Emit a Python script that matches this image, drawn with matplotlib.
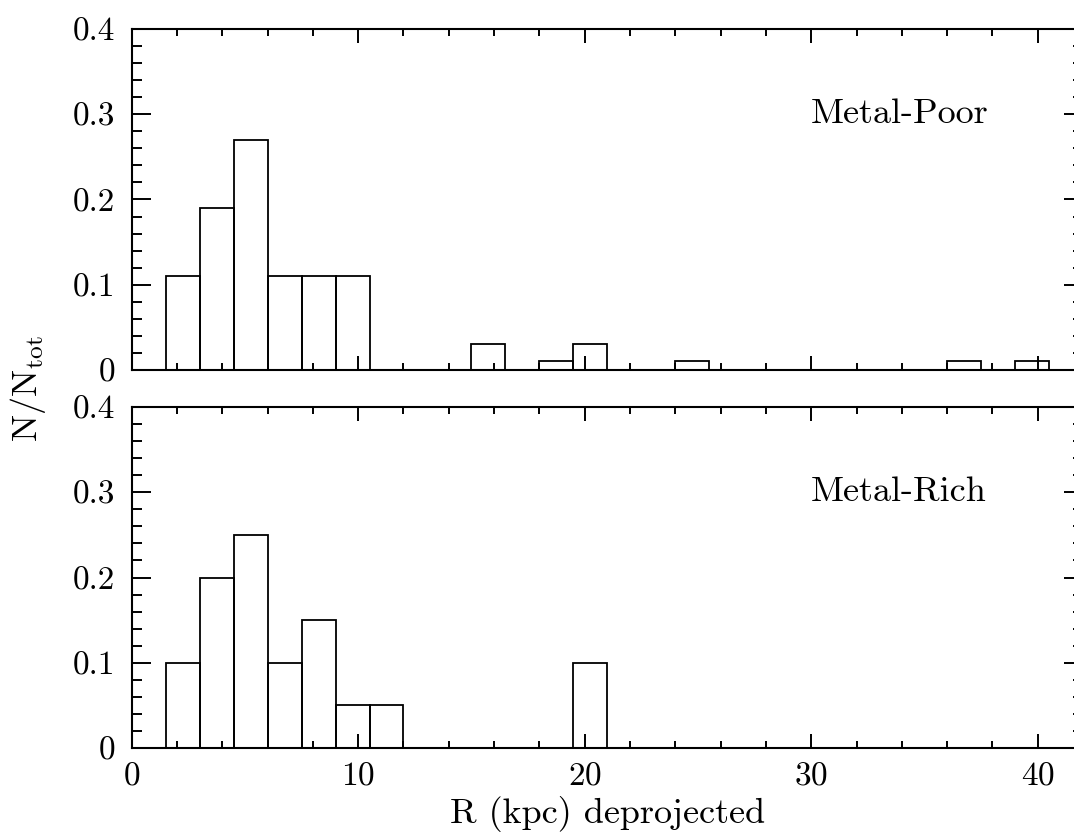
import matplotlib
matplotlib.use("Agg")
import matplotlib.pyplot as plt
from matplotlib.ticker import MultipleLocator, FuncFormatter

# Histogram data (bin left edges, fractions), bin width 1.5 kpc
bin_width = 1.5
poor_left = [1.5, 3.0, 4.5, 6.0, 7.5, 9.0, 15.0, 18.0, 19.5, 24.0, 36.0, 39.0]
poor_frac = [0.11, 0.19, 0.27, 0.11, 0.11, 0.11, 0.03, 0.01, 0.03, 0.01, 0.01, 0.01]
rich_left = [1.5, 3.0, 4.5, 6.0, 7.5, 9.0, 10.5, 19.5]
rich_frac = [0.10, 0.20, 0.25, 0.10, 0.15, 0.05, 0.05, 0.10]

panel_labels = ["Metal-Poor", "Metal-Rich"]

plt.rcParams['font.family'] = 'cmr10'
plt.rcParams['mathtext.fontset'] = 'cm'
plt.rcParams['axes.formatter.use_mathtext'] = True

fig = plt.figure(figsize=(10.74, 8.38), dpi=100)
ax_top = fig.add_axes([0.1226, 0.5585, 0.8858, 0.4069])
ax_bot = fig.add_axes([0.1226, 0.1074, 0.8858, 0.4069])


def fmt(v, pos):
    if abs(v) < 1e-9:
        return "0"
    return f"{v:.1f}"


for ax, lefts, fracs, label in [(ax_top, poor_left, poor_frac, panel_labels[0]),
                                (ax_bot, rich_left, rich_frac, panel_labels[1])]:
    ax.bar(lefts, fracs, width=bin_width, align='edge', fill=False,
           edgecolor='black', linewidth=1.3)
    ax.set_xlim(0, 42)
    ax.set_ylim(0, 0.4)
    ax.xaxis.set_major_locator(MultipleLocator(10))
    ax.xaxis.set_minor_locator(MultipleLocator(2))
    ax.yaxis.set_major_locator(MultipleLocator(0.1))
    ax.yaxis.set_minor_locator(MultipleLocator(0.02))
    ax.yaxis.set_major_formatter(FuncFormatter(fmt))
    ax.tick_params(axis='both', which='both', direction='in',
                   top=True, right=True, width=1.4, labelsize=24)
    ax.tick_params(axis='x', which='major', length=10, pad=10)
    ax.tick_params(axis='x', which='minor', length=5)
    ax.tick_params(axis='y', which='major', length=14, pad=12)
    ax.tick_params(axis='y', which='minor', length=7)
    for s in ax.spines.values():
        s.set_linewidth(1.5)
    ax.text(30, 0.3, label, fontsize=26, ha='left', va='center')

ax_top.tick_params(axis='x', labelbottom=False)
ax_bot.set_xlabel("R (kpc) deprojected", fontsize=26, labelpad=4)
fig.text(0.026, 0.536, r"N/N$_{\rm tot}$", fontsize=26, rotation=90,
         ha='center', va='center')

fig.savefig("out.png", dpi=100)
